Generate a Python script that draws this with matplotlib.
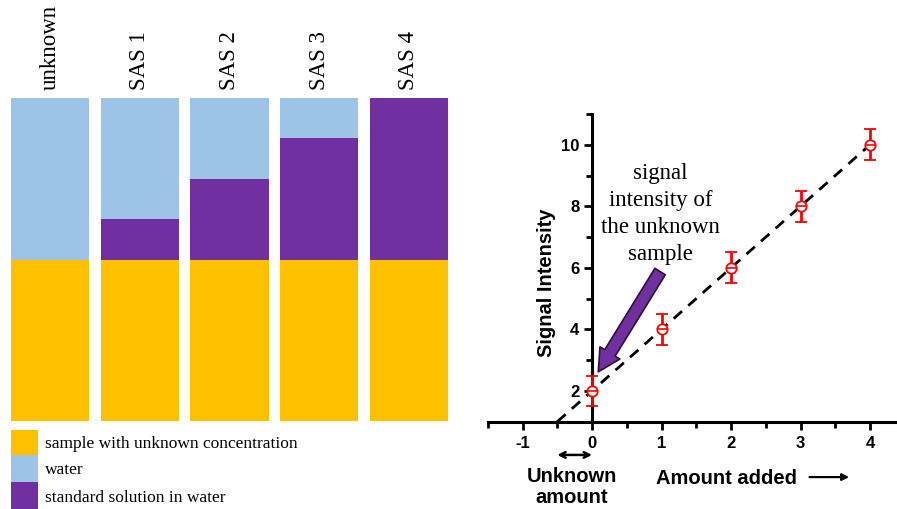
import numpy as np
import matplotlib
matplotlib.use("Agg")
import matplotlib.pyplot as plt
from matplotlib.ticker import MultipleLocator

plt.rcParams["axes.unicode_minus"] = False

# ---------------- data ----------------
solutions = ["unknown", "SAS 1", "SAS 2", "SAS 3", "SAS 4"]
sample_part = [4, 4, 4, 4, 4]
standard_part = [0, 1, 2, 3, 4]
water_part = [4, 3, 2, 1, 0]
legend_labels = ["sample with unknown concentration", "water", "standard solution in water"]
colors = ["#FFC000", "#9DC3E6", "#7030A0"]

amount_added = [0, 1, 2, 3, 4]
signal = [2, 4, 6, 8, 10]
signal_err = [0.5, 0.5, 0.5, 0.5, 0.5]
fit_range = [-0.5, 4.1]

W, H = 897, 509
fig = plt.figure(figsize=(W / 100, H / 100), dpi=100)

def px_axes(x0, y0, x1, y1):
    return fig.add_axes([x0 / W, 1 - y1 / H, (x1 - x0) / W, (y1 - y0) / H])

serif = ["Liberation Serif", "DejaVu Serif"]
sans = ["Liberation Sans", "DejaVu Sans"]

# ---------------- left panel: stacked bars ----------------
axl = px_axes(11, 98, 448, 421)
x = np.arange(len(solutions))
bw = 0.875
axl.bar(x, sample_part, bw, color=colors[0], edgecolor="none")
axl.bar(x, standard_part, bw, bottom=sample_part, color=colors[2], edgecolor="none")
axl.bar(x, water_part, bw, bottom=np.array(sample_part) + np.array(standard_part),
        color=colors[1], edgecolor="none")
axl.set_xlim(-0.4375, len(solutions) - 1 + 0.4375)
axl.set_ylim(0, 8)
axl.axis("off")
for xi, lab in zip(x, solutions):
    axl.text(xi, 1.025, lab, transform=axl.get_xaxis_transform(), rotation=90,
             ha="center", va="bottom", fontsize=16.5, family=serif)

# legend (manual)
axg = px_axes(0, 428, 448, 509)
axg.set_xlim(0, 448)
axg.set_ylim(81, 0)
axg.axis("off")
ytops = [2, 27, 54]
hs = [25, 27, 27]
for yt, h, c, lab in zip(ytops, hs, colors, legend_labels):
    axg.add_patch(plt.Rectangle((11, yt), 27, h, color=c, lw=0))
    axg.text(45, yt + h / 2 + 2, lab, ha="left", va="center", fontsize=12.5, family=serif)

# ---------------- right panel: standard addition plot ----------------
axr = px_axes(487.75, 114, 897.8, 421.7)
axr.set_xlim(-1.5, 4.4)
axr.set_ylim(1, 11)

coef = np.polyfit(amount_added, signal, 1)
xf = np.array(fit_range)
axr.plot(xf, np.polyval(coef, xf), color="black", lw=2, ls=(0, (4, 3)), zorder=2)

axr.errorbar(amount_added, signal, yerr=signal_err, fmt="o", ms=7.5, mfc="white",
             mec="red", mew=1.3, ecolor="red", elinewidth=2, capsize=4, capthick=2, zorder=3)
axr.plot(amount_added, signal, ls="none", marker="_", ms=7, mew=1.2, color="red", zorder=4)

for s in ["top", "right"]:
    axr.spines[s].set_visible(False)
axr.spines["left"].set_position(("data", 0))
axr.spines["bottom"].set_position(("data", 1))
for s in ["left", "bottom"]:
    axr.spines[s].set_linewidth(2.2)
axr.xaxis.set_major_locator(MultipleLocator(1))
axr.xaxis.set_minor_locator(MultipleLocator(0.5))
axr.yaxis.set_major_locator(MultipleLocator(2))
axr.yaxis.set_minor_locator(MultipleLocator(1))
axr.set_yticks([2, 4, 6, 8, 10])
axr.set_xticks([-1, 0, 1, 2, 3, 4])
axr.tick_params(which="major", direction="out", length=6, width=2, labelsize=12)
axr.tick_params(which="minor", direction="out", length=4, width=2)
for lab in axr.get_xticklabels() + axr.get_yticklabels():
    lab.set_fontweight("bold")
    lab.set_family(sans)
axr.tick_params(axis="x", pad=4)
axr.tick_params(axis="y", pad=3)

axr.text(-0.65, 5.5, "Signal Intensity", rotation=90, ha="center", va="center",
         fontsize=14.5, fontweight="bold", family=sans)

axr.text(0.985, 7.75, "signal\nintensity of\nthe unknown\nsample", ha="center", va="center",
         fontsize=16.5, family=serif, linespacing=1.36)

axr.annotate("", xy=(0.09, 2.62), xytext=(0.98, 5.88),
             arrowprops=dict(arrowstyle="simple,head_length=1.0,head_width=1.05,tail_width=0.55",
                             fc="#7030A0", ec="#2a1040", lw=1.2, mutation_scale=16, shrinkA=0, shrinkB=0))

tr = axr.get_xaxis_transform()
axr.annotate("", xy=(0.0, -0.108), xytext=(-0.5, -0.108), xycoords=tr, textcoords=tr,
             arrowprops=dict(arrowstyle="<->", lw=1.8, color="black", shrinkA=0, shrinkB=0,
                             mutation_scale=10), annotation_clip=False)
axr.text(-0.29, -0.148, "Unknown\namount", transform=tr, ha="center", va="top",
         fontsize=14.5, fontweight="bold", family=sans, linespacing=1.12)
axr.text(1.94, -0.185, "Amount added", transform=tr, ha="center", va="center",
         fontsize=14.5, fontweight="bold", family=sans)
axr.annotate("", xy=(3.7, -0.18), xytext=(3.13, -0.18), xycoords=tr, textcoords=tr,
             arrowprops=dict(arrowstyle="-|>", lw=1.6, color="black", shrinkA=0, shrinkB=0,
                             mutation_scale=10), annotation_clip=False)

fig.savefig("out.png", dpi=100)
